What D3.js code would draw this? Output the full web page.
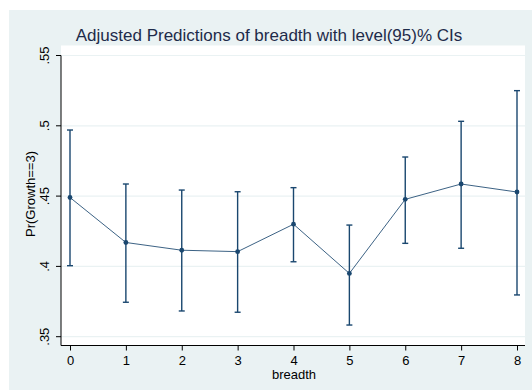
<!DOCTYPE html>
<html>
<head>
<meta charset="utf-8">
<script src="https://cdn.jsdelivr.net/npm/d3@7"></script>
<style>
  body { margin: 0; background: #fff; }
  svg { display: block; font-family: "Liberation Sans", Arial, sans-serif; }
</style>
</head>
<body>
<svg id="vis-svg" width="532" height="390"></svg>
<script>
var width  = 532;
var height = 390;

// values
const breadth  = [0, 1, 2, 3, 4, 5, 6, 7, 8];
const estimate = [0.449, 0.417, 0.4115, 0.4105, 0.430, 0.395, 0.4477, 0.4586, 0.4529];
const lower    = [0.4005, 0.3745, 0.3683, 0.3674, 0.4033, 0.3583, 0.4164, 0.4129, 0.3797];
const upper    = [0.497, 0.4586, 0.4543, 0.4531, 0.456, 0.4294, 0.4778, 0.5032, 0.525];
const yTicks   = [0.35, 0.4, 0.45, 0.5, 0.55];
const yLabels  = [".35", ".4", ".45", ".5", ".55"];

const navy = "#1a476f";

const svg = d3.select("#vis-svg");

// outer stata-style background
svg.append("rect").attr("x", 9).attr("y", 10).attr("width", width - 9).attr("height", height - 10)
   .attr("fill", "#eaf2f3");
// plot region
svg.append("rect").attr("x", 61).attr("y", 45.5).attr("width", 464).attr("height", 300)
   .attr("fill", "#fff");

const x = d3.scaleLinear().domain([0, 8]).range([70, 517]);
const y = d3.scaleLinear().domain([0.35, 0.55]).range([336.7, 55.5]);

// gridlines
svg.append("g").selectAll("line").data(yTicks).enter().append("line")
   .attr("x1", 61).attr("x2", 525)
   .attr("y1", d => y(d)).attr("y2", d => y(d))
   .attr("stroke", "#eaf2f3").attr("stroke-width", 1.2);

// y axis
const yAxis = d3.axisLeft(y).tickValues(yTicks).tickSize(5).tickSizeOuter(0)
   .tickFormat((d, i) => yLabels[i]);
const gy = svg.append("g").attr("transform", "translate(61,0)").call(yAxis);
gy.select(".domain").attr("d", "M0," + y(0.55) + "V345.5").attr("stroke", "#000");
gy.selectAll(".tick").attr("transform", null);
gy.selectAll(".tick line").attr("stroke", "#000")
   .attr("y1", d => y(d)).attr("y2", d => y(d));
gy.selectAll(".tick text")
   .attr("transform", "rotate(-90)")
   .attr("x", d => -y(d)).attr("y", -12).attr("dy", 0)
   .attr("text-anchor", "middle")
   .attr("font-size", 13).attr("fill", "#000");

// x axis
const xAxis = d3.axisBottom(x).tickValues(breadth).tickSize(5).tickSizeOuter(0)
   .tickFormat(d3.format("d"));
const gx = svg.append("g").attr("transform", "translate(0,345.5)").call(xAxis);
gx.select(".domain").attr("d", "M61,0H525").attr("stroke", "#000");
gx.selectAll(".tick line").attr("stroke", "#000");
gx.selectAll(".tick text").attr("font-size", 13).attr("fill", "#000").attr("dy", "0.71em").attr("y", 10);

// axis titles
svg.append("text").attr("x", 294).attr("y", 378.5).attr("text-anchor", "middle")
   .attr("font-size", 13).attr("fill", "#000").text("breadth");
svg.append("text").attr("transform", "translate(35,194) rotate(-90)").attr("text-anchor", "middle")
   .attr("font-size", 13).attr("fill", "#000").text("Pr(Growth==3)");

// title
svg.append("text").attr("x", 269).attr("y", 41).attr("text-anchor", "middle")
   .attr("font-size", 17).attr("fill", "#1e2b4a")
   .text("Adjusted Predictions of breadth with level(95)% CIs");

// confidence intervals
const ci = svg.append("g").attr("stroke", navy).attr("stroke-width", 1.4);
breadth.forEach((b, i) => {
  ci.append("line").attr("x1", x(b)).attr("x2", x(b)).attr("y1", y(lower[i])).attr("y2", y(upper[i]));
  ci.append("line").attr("x1", x(b) - 3).attr("x2", x(b) + 3).attr("y1", y(lower[i])).attr("y2", y(lower[i]));
  ci.append("line").attr("x1", x(b) - 3).attr("x2", x(b) + 3).attr("y1", y(upper[i])).attr("y2", y(upper[i]));
});

// connecting line
const line = d3.line().x((d, i) => x(breadth[i])).y(d => y(d));
svg.append("path").datum(estimate).attr("d", line)
   .attr("fill", "none").attr("stroke", navy).attr("stroke-width", 1).attr("stroke-opacity", 0.85);

// markers
svg.append("g").selectAll("circle").data(estimate).enter().append("circle")
   .attr("cx", (d, i) => x(breadth[i])).attr("cy", d => y(d)).attr("r", 2.4)
   .attr("fill", navy);
</script>
</body>
</html>
